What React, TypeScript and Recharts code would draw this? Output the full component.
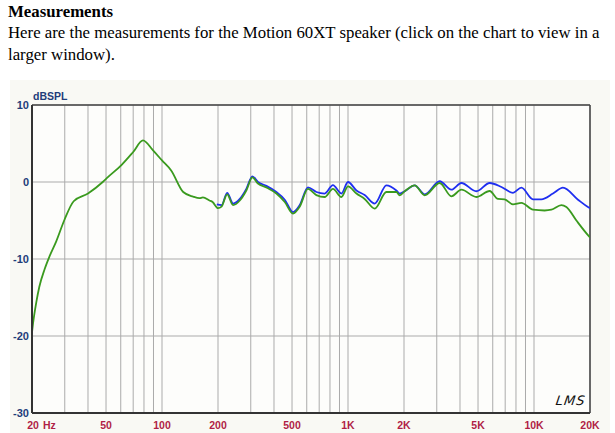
import React from "react";
import {
  LineChart,
  Line,
  XAxis,
  YAxis,
  CartesianGrid,
  ReferenceLine,
} from "recharts";

// frequency response (Hz / dBSPL)
const greenFreq = [
  20, 20.25, 21.1, 21.9, 23.4, 24.9, 27, 29.9, 33.5, 40, 48, 51, 60.5, 70, 79,
  89.5, 100, 112, 130, 147, 159, 166, 180, 187, 200, 209, 224, 241, 262, 284,
  306, 328, 364, 412, 457, 506, 550, 609, 676, 749, 830, 921, 1000, 1110, 1229,
  1392, 1608, 1820, 1897, 2018, 2283, 2584, 3112, 3596, 4070, 4898, 5778, 6400,
  6952, 7709, 8551, 9875, 11400, 12400, 14030, 14930, 16900, 19500, 20000,
];
const greenDb = [
  -19.5, -18.4, -15.6, -13.6, -11.3, -9.6, -7.7, -4.9, -2.5, -1.5, 0, 0.6, 2.2,
  3.9, 5.4, 4.1, 2.8, 1.5, -1.3, -1.9, -2.1, -2.0, -2.4, -2.6, -3.4, -3.2, -1.6,
  -3.0, -2.4, -1.1, 0.6, -0.2, -0.7, -1.5, -2.6, -4.1, -3.2, -0.9, -1.7, -1.95,
  -0.9, -1.95, -0.56, -1.5, -2.2, -3.45, -1.3, -1.3, -1.73, -1.2, -0.43, -1.73,
  -0.13, -1.86, -1.0, -1.95, -1.17, -2.2, -2.25, -2.9, -2.7, -3.6, -3.7, -3.6,
  -3.0, -3.25, -5.0, -6.9, -7.2,
];

const blueFreq = [
  197, 209, 224, 241, 262, 284, 306, 328, 364, 412, 457, 506, 550, 609, 676,
  749, 830, 921, 1000, 1110, 1229, 1392, 1608, 1820, 1897, 2018, 2283, 2584,
  3112, 3596, 4070, 4898, 5778, 6681, 7709, 8551, 9875, 10956, 12648, 14316,
  17240, 19500, 20000,
];
const blueDb = [
  -2.9, -3.0, -1.4, -2.8, -2.2, -0.9, 0.74, 0.0, -0.5, -1.3, -2.3, -3.9, -3.0,
  -0.7, -1.3, -1.5, -0.4, -1.5, 0.0, -1.1, -1.7, -2.8, -0.43, -1.1, -1.5, -1.2,
  -0.43, -1.6, 0.1, -1.0, -0.13, -1.2, -0.13, -0.65, -1.4, -0.73, -2.25, -2.25,
  -1.5, -0.73, -2.3, -3.25, -3.4,
];

const gridFreqs = [
  20, 30, 40, 50, 60, 70, 80, 90, 100, 200, 300, 400, 500, 600, 700, 800, 900,
  1000, 2000, 3000, 4000, 5000, 6000, 7000, 8000, 9000, 10000, 20000,
];
const freqLabels: Record<number, string> = {
  20: "20",
  50: "50",
  100: "100",
  200: "200",
  500: "500",
  1000: "1K",
  2000: "2K",
  5000: "5K",
  10000: "10K",
  20000: "20K",
};
const dbTicks = [-30, -20, -10, 0, 10];

const greenData = greenFreq.map((f, i) => ({ f, db: greenDb[i] }));
const blueData = blueFreq.map((f, i) => ({ f, db: blueDb[i] }));

const tickFont = "'Liberation Sans', Arial, sans-serif";
const freqColor = "#b01e46";

function FreqTick(props: any) {
  const { x, y, payload } = props;
  const label = freqLabels[payload.value];
  if (!label) return null;
  const common = { fill: freqColor, fontSize: 10.5, fontWeight: "bold", fontFamily: tickFont };
  if (payload.value === 20) {
    return (
      <g>
        <text x={x + 1} y={y + 8} textAnchor="middle" {...common}>
          20
        </text>
        <text x={x + 11} y={y + 8} textAnchor="start" {...common}>
          Hz
        </text>
      </g>
    );
  }
  return (
    <text x={x} y={y + 8} textAnchor="middle" {...common}>
      {label}
    </text>
  );
}

export default function App() {
  return (
    <div
      style={{
        position: "absolute",
        left: 0,
        top: 0,
        width: 615,
        height: 433,
        background: "#ffffff",
        fontFamily: "'Liberation Serif', 'Times New Roman', serif",
        overflow: "hidden",
      }}
    >
      <div style={{ position: "absolute", left: 8, top: 1, fontSize: 16.8, lineHeight: "22px", fontWeight: "bold" }}>
        Measurements
      </div>
      <div style={{ position: "absolute", left: 8, top: 22, width: 607, fontSize: 16.8, lineHeight: "22px", whiteSpace: "nowrap" }}>
        Here are the measurements for the Motion 60XT speaker (click on the chart to view in a
        <br />
        larger window).
      </div>

      <div style={{ position: "absolute", left: 10, top: 80, width: 600, height: 353, background: "#f9f9f4" }} />

      <div style={{ position: "absolute", left: 0, top: 78 }}>
        <LineChart width={615} height={355} margin={{ top: 27, right: 25, bottom: 0, left: 0 }}>
          <CartesianGrid fill="#fdfdfb" stroke="#ababab" strokeWidth={1} />
          <XAxis
            dataKey="f"
            type="number"
            scale="log"
            domain={[20, 20000]}
            ticks={gridFreqs}
            interval={0}
            allowDataOverflow
            height={20}
            tickLine={false}
            axisLine={{ stroke: "#333", strokeWidth: 2 }}
            tick={<FreqTick />}
          />
          <YAxis
            type="number"
            domain={[-30, 10]}
            ticks={dbTicks}
            interval={0}
            width={32}
            allowDataOverflow
            tickLine={false}
            tickSize={0}
            tickMargin={3}
            axisLine={{ stroke: "#333", strokeWidth: 2 }}
            tick={{ fill: "#1f3d7a", fontSize: 11, fontWeight: "bold", fontFamily: tickFont }}
          />
          <ReferenceLine y={10} stroke="#444" strokeWidth={1.5} />
          <ReferenceLine x={20000} stroke="#444" strokeWidth={1.5} />
          <Line
            data={blueData}
            dataKey="db"
            type="monotone"
            stroke="#1f2ff0"
            strokeWidth={1.8}
            dot={false}
            isAnimationActive={false}
          />
          <Line
            data={greenData}
            dataKey="db"
            type="monotone"
            stroke="#3a9a1e"
            strokeWidth={1.8}
            dot={false}
            isAnimationActive={false}
          />
        </LineChart>
      </div>

      <div
        style={{
          position: "absolute",
          left: 33,
          top: 90,
          fontSize: 10.5,
          fontWeight: "bold",
          color: "#1f3d7a",
          fontFamily: tickFont,
        }}
      >
        dBSPL
      </div>
      <div
        style={{
          position: "absolute",
          left: 556,
          top: 393,
          fontSize: 13,
          fontStyle: "italic",
          color: "#111",
          letterSpacing: 1,
          fontFamily: "'DejaVu Sans', sans-serif",
          fontWeight: 300,
          transform: "skewX(-8deg)",
        }}
      >
        LMS
      </div>
    </div>
  );
}
